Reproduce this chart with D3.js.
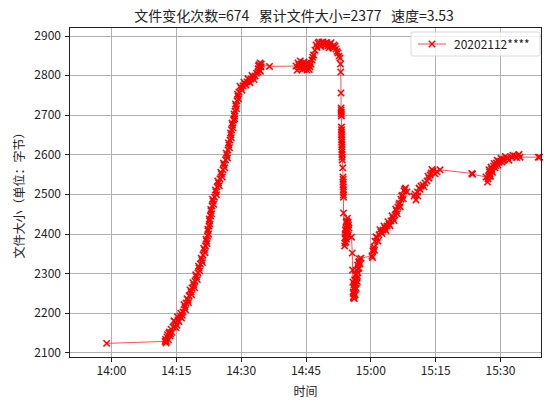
<!DOCTYPE html>
<meta charset="utf-8">
<title>文件变化</title>
<script src="https://d3js.org/d3.v7.min.js"></script>
<style>
  body { margin: 0; background: #fff; }
  svg text { font-family: "Noto Sans CJK SC", "DejaVu Sans", sans-serif; fill: #222; }
  .axis path, .axis line { stroke: #222; shape-rendering: crispEdges; }
  .grid line { stroke: #b0b0b0; stroke-width: 1; shape-rendering: crispEdges; }
  .grid path { display: none; }
</style>
<body>
<div id="chart"></div>
<script>

// chart texts
var titleText = "文件变化次数=674   累计文件大小=2377   速度=3.53";
var seriesName = "20202112****";
var xLabel = "时间";
var yLabel = "文件大小（单位：字节）";

// y tick values
var yTicks = [2100, 2200, 2300, 2400, 2500, 2600, 2700, 2800, 2900];

// sample times
var times = [
  "13:59:00","14:12:30","14:12:44","14:12:57","14:13:18","14:13:25","14:13:39","14:13:53","14:14:21","14:14:48",
  "14:15:16","14:15:30","14:15:58","14:16:19","14:16:40","14:17:07","14:17:21","14:17:49","14:18:03","14:18:31",
  "14:18:44","14:19:12","14:19:26","14:19:47","14:20:08","14:20:22","14:20:42","14:21:03","14:21:17","14:21:38",
  "14:21:52","14:22:06","14:22:20","14:22:27","14:22:41","14:22:47","14:23:01","14:23:08","14:23:22","14:23:36",
  "14:23:57","14:24:18","14:24:32","14:24:52","14:25:13","14:25:34","14:25:55","14:26:09","14:26:30","14:26:50",
  "14:27:04","14:27:18","14:27:32","14:27:46","14:27:53","14:28:07","14:28:21","14:28:35","14:28:41","14:28:55",
  "14:29:09","14:29:23","14:29:37","14:30:05","14:30:33","14:31:00","14:31:28","14:31:56","14:32:24","14:32:51",
  "14:33:19","14:33:40","14:34:01","14:34:08","14:34:22","14:34:29","14:34:42","14:36:40","14:42:48","14:43:16",
  "14:43:37","14:43:58","14:44:19","14:44:39","14:45:00","14:45:21","14:45:42","14:46:03","14:46:30","14:46:51",
  "14:47:12","14:47:26","14:47:54","14:48:22","14:48:49","14:49:17","14:49:45","14:50:13","14:50:40","14:51:08",
  "14:51:36","14:52:04","14:52:31","14:52:59","14:53:06","14:53:10","14:53:13","14:53:14","14:53:16","14:53:18",
  "14:53:19","14:53:20","14:53:22","14:53:23","14:53:24","14:53:26","14:53:27","14:53:30","14:53:37","14:53:41",
  "14:53:42","14:53:44","14:53:45","14:53:46","14:53:48","14:54:03","14:54:09","14:54:14","14:54:20","14:54:25",
  "14:54:31","14:54:36","14:54:42","14:54:48","14:54:53","14:55:04","14:55:39","14:55:49","14:55:54","14:55:58",
  "14:56:02","14:56:07","14:56:11","14:56:15","14:56:21","14:56:27","14:56:34","14:56:41","14:56:48","14:56:55",
  "14:57:02","14:57:09","14:57:16","14:57:23","14:57:30","14:57:37","14:57:51","15:00:23","15:00:37","15:00:51",
  "15:01:05","15:01:33","15:02:01","15:02:28","15:02:56","15:03:24","15:03:52","15:04:19","15:04:47","15:05:15",
  "15:05:43","15:06:04","15:06:24","15:06:45","15:07:06","15:07:27","15:07:48","15:08:08","15:08:29","15:10:07",
  "15:10:34","15:10:55","15:11:16","15:11:44","15:12:11","15:12:39","15:13:07","15:13:35","15:14:03","15:14:30",
  "15:14:58","15:15:26","15:16:08","15:23:28","15:23:39","15:26:46","15:27:07","15:27:21","15:27:35","15:27:49",
  "15:28:03","15:28:16","15:28:30","15:28:51","15:29:12","15:29:33","15:30:00","15:30:28","15:30:56","15:31:31",
  "15:32:05","15:32:47","15:33:29","15:34:15","15:34:38","15:38:52","15:39:09"
];

// file size at each sample (bytes)
var sizes = [
  2123,2128,2124,2139,2132,2149,2142,2159,2164,2177,
  2169,2182,2192,2187,2202,2215,2225,2232,2243,2253,
  2263,2270,2280,2291,2301,2313,2323,2333,2346,2359,
  2369,2381,2394,2407,2419,2432,2445,2457,2470,2482,
  2492,2505,2518,2528,2538,2550,2561,2573,2586,2598,
  2611,2624,2636,2649,2662,2674,2687,2697,2709,2722,
  2735,2747,2757,2768,2773,2778,2783,2788,2790,2795,
  2798,2805,2808,2823,2813,2831,2821,2822,2823,2831,
  2818,2828,2815,2833,2823,2813,2831,2821,2838,2851,
  2863,2876,2881,2876,2883,2879,2881,2874,2879,2871,
  2876,2866,2856,2843,2828,2808,2755,2717,2707,2697,
  2669,2656,2644,2631,2619,2606,2593,2586,2566,2543,
  2530,2518,2505,2492,2452,2369,2389,2409,2379,2429,
  2399,2419,2439,2409,2429,2414,2391,2351,2308,2278,
  2253,2238,2263,2243,2283,2258,2296,2273,2308,2288,
  2321,2301,2328,2313,2336,2323,2338,2344,2356,2366,
  2381,2389,2397,2404,2409,2414,2419,2424,2432,2439,
  2447,2457,2467,2477,2487,2497,2508,2515,2505,2495,
  2485,2505,2515,2520,2523,2528,2533,2540,2553,2558,
  2551,2556,2561,2552,2550,2543,2530,2545,2555,2545,
  2563,2555,2571,2566,2578,2573,2583,2581,2588,2591,
  2585,2593,2596,2598,2593,2593,2593
];

// more samples inside the dense, noisy stretches
var denseTimes = [
  "14:12:37","14:12:50","14:13:05","14:13:31","14:13:46",
  "14:14:07","14:14:34","14:15:02","14:15:23","14:15:44","14:16:08","14:16:30","14:16:53","14:17:14","14:17:35",
  "14:17:56","14:18:17","14:18:38","14:18:58","14:19:19","14:19:36","14:19:58","14:20:15","14:20:32","14:20:52",
  "14:21:10","14:21:27","14:21:45","14:21:59","14:22:13","14:22:24","14:22:34","14:22:44","14:22:54","14:23:05",
  "14:23:15","14:23:29","14:23:46","14:24:08","14:24:25","14:24:42","14:25:03","14:25:24","14:25:45","14:26:02",
  "14:26:20","14:26:40","14:26:57","14:27:11","14:27:25","14:27:39","14:27:50","14:28:00","14:28:14","14:28:28",
  "14:28:38","14:28:48","14:29:02","14:29:16","14:29:30","14:29:51","14:30:19","14:30:46","14:31:14","14:31:42",
  "14:32:10","14:32:37","14:33:05","14:34:04","14:34:15","14:34:35","14:34:46",
  "14:43:02","14:43:27","14:43:48","14:44:08","14:44:29","14:44:50","14:45:10","14:45:31","14:45:52","14:46:16",
  "14:46:41","14:47:40","14:48:08","14:48:35","14:49:03","14:49:31","14:49:59","14:50:27","14:50:54","14:51:22",
  "14:51:50","14:52:18","14:52:45",
  "14:53:15","14:53:17","14:53:20","14:53:21","14:53:23","14:53:25","14:53:26","14:53:28","14:53:42","14:53:43",
  "14:53:45","14:53:46",
  "14:54:06","14:54:11","14:54:17","14:54:23","14:54:28","14:54:34","14:54:39","14:54:45","14:54:50","14:54:58",
  "14:56:05","14:56:09","14:56:13","14:56:18","14:56:24","14:56:30","14:56:38","14:56:45","14:56:52","14:57:00",
  "14:57:12","14:57:26",
  "15:00:30","15:00:44","15:00:58","15:01:19","15:01:47","15:02:14","15:02:42","15:03:10","15:03:38","15:04:05",
  "15:04:33","15:05:01","15:05:29","15:05:53","15:06:14","15:06:35","15:06:55","15:07:16","15:07:37","15:07:58",
  "15:10:20","15:11:00","15:11:30","15:12:25","15:13:20","15:13:50","15:14:15",
  "15:27:14","15:27:28","15:27:42","15:27:56","15:28:10","15:28:40","15:29:00","15:29:22","15:29:45","15:30:14",
  "15:30:42","15:31:14","15:31:50","15:33:00","15:33:50","15:34:25"
];
var denseSizes = [
  2133,2128,2145,2152,2147,
  2151,2180,2163,2190,2178,2199,2194,2221,2208,2236,
  2226,2258,2246,2276,2264,2296,2284,2318,2306,2338,
  2327,2363,2352,2386,2375,2411,2399,2437,2424,2461,
  2450,2487,2474,2510,2498,2533,2521,2555,2543,2578,
  2566,2603,2591,2629,2617,2654,2642,2679,2667,2702,
  2690,2727,2715,2752,2740,2772,2762,2782,2775,2791,
  2781,2799,2789,2816,2826,2810,2828,
  2812,2826,2836,2820,2826,2816,2830,2824,2814,2828,
  2845,2870,2884,2872,2884,2874,2882,2869,2882,2868,
  2873,2860,2848,
  2712,2702,2662,2650,2637,2625,2612,2600,2537,2524,
  2511,2498,
  2376,2399,2392,2414,2386,2432,2404,2421,2396,2422,
  2240,2248,2271,2236,2266,2246,2281,2262,2296,2279,
  2311,2330,
  2340,2361,2358,2392,2381,2410,2400,2419,2408,2430,
  2420,2445,2433,2462,2450,2473,2468,2495,2488,2512,
  2500,2495,2512,2518,2545,2548,2562,
  2538,2561,2550,2568,2560,2577,2572,2585,2580,2590,
  2585,2595,2590,2598,2592,2600
];

var parseTime = d3.timeParse("%H:%M:%S");
var data = times.map(function(t, i) { return {t: parseTime(t), v: sizes[i]}; })
    .concat(denseTimes.map(function(t, i) { return {t: parseTime(t), v: denseSizes[i]}; }));
data.sort(function(a, b) { return a.t - b.t; });

var W = 544, H = 401;
var plotL = 69, plotR = 542, plotT = 27, plotB = 358;

var svg = d3.select("#chart").append("svg")
    .attr("width", W)
    .attr("height", H);

// x domain runs from 13:50:17 to 15:39:43 (axes edges)
var x = d3.scaleTime()
    .domain([parseTime("13:50:17"), parseTime("15:39:43")])
    .range([plotL, plotR]);

var y = d3.scaleLinear()
    .domain([2086.1, 2921.5])
    .range([plotB, plotT]);

var xTicks = d3.timeMinute.every(15).range(parseTime("14:00:00"), parseTime("15:31:00"));

// grid
svg.append("g")
    .attr("class", "grid")
    .attr("transform", "translate(0," + plotB + ")")
    .call(d3.axisBottom(x).tickValues(xTicks).tickSize(-(plotB - plotT)).tickFormat(""));
svg.append("g")
    .attr("class", "grid")
    .attr("transform", "translate(" + plotL + ",0)")
    .call(d3.axisLeft(y).tickValues(yTicks).tickSize(-(plotR - plotL)).tickFormat(""));

// line + markers
var line = d3.line()
    .x(function(d) { return x(d.t); })
    .y(function(d) { return y(d.v); });

svg.append("path")
    .datum(data)
    .attr("fill", "none")
    .attr("stroke", "#e8292b")
    .attr("stroke-width", 0.8)
    .attr("d", line);

var cross = "M-3.2,-3.2L3.2,3.2M-3.2,3.2L3.2,-3.2";
svg.append("g")
  .selectAll("path")
  .data(data)
  .enter().append("path")
    .attr("transform", function(d) { return "translate(" + x(d.t) + "," + y(d.v) + ")"; })
    .attr("d", cross)
    .attr("stroke", "red")
    .attr("stroke-width", 1.5)
    .attr("fill", "none");

// frame
svg.append("rect")
    .attr("x", plotL + 0.5)
    .attr("y", plotT + 0.5)
    .attr("width", plotR - plotL - 1)
    .attr("height", plotB - plotT - 1)
    .attr("fill", "none")
    .attr("stroke", "#222")
    .attr("stroke-width", 1);

// axes
var xAxis = svg.append("g")
    .attr("class", "axis")
    .attr("transform", "translate(0," + plotB + ")")
    .call(d3.axisBottom(x).tickValues(xTicks).tickSize(4).tickPadding(4).tickFormat(d3.timeFormat("%H:%M")));
xAxis.select(".domain").remove();
xAxis.selectAll("text").style("font-size", "12px");

var yAxis = svg.append("g")
    .attr("class", "axis")
    .attr("transform", "translate(" + plotL + ",0)")
    .call(d3.axisLeft(y).tickValues(yTicks).tickSize(4).tickPadding(4).tickFormat(d3.format("d")));
yAxis.select(".domain").remove();
yAxis.selectAll("text").style("font-size", "12px");

// title and labels
svg.append("text")
    .attr("x", 294)
    .attr("y", 21)
    .attr("text-anchor", "middle")
    .style("font-size", "14px")
    .style("white-space", "pre")
    .text(titleText);

svg.append("text")
    .attr("x", (plotL + plotR) / 2)
    .attr("y", 396)
    .attr("text-anchor", "middle")
    .style("font-size", "12px")
    .text(xLabel);

svg.append("text")
    .attr("transform", "translate(24," + ((plotT + plotB) / 2) + ") rotate(-90)")
    .attr("text-anchor", "middle")
    .style("font-size", "12px")
    .text(yLabel);

// legend
var lg = svg.append("g").attr("transform", "translate(411,32)");
lg.append("rect")
    .attr("width", 129)
    .attr("height", 24)
    .attr("rx", 2)
    .attr("fill", "white")
    .attr("fill-opacity", 0.8)
    .attr("stroke", "#d8d8d8");
lg.append("line")
    .attr("x1", 7).attr("x2", 35)
    .attr("y1", 12).attr("y2", 12)
    .attr("stroke", "#e8292b")
    .attr("stroke-width", 0.8);
lg.append("path")
    .attr("transform", "translate(21,12)")
    .attr("d", cross)
    .attr("stroke", "red")
    .attr("stroke-width", 1.5);
lg.append("text")
    .attr("x", 43)
    .attr("y", 16.5)
    .style("font-size", "12px")
    .text(seriesName);

</script>
</body>
